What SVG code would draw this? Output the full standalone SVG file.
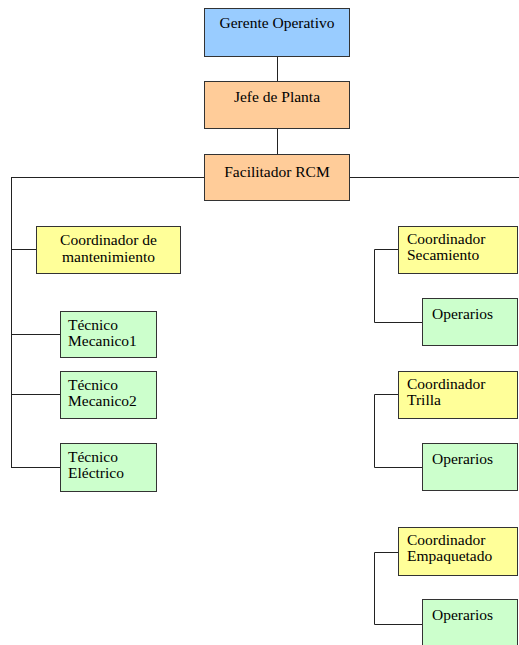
<svg xmlns="http://www.w3.org/2000/svg" width="519" height="645" viewBox="0 0 519 645">
<style>
rect{stroke:#333;stroke-width:1}
.b{fill:#99CCFF}.o{fill:#FFCC99}.y{fill:#FFFF99}.g{fill:#CCFFCC}
text{font-size:15.5px;fill:#000}
.c{text-anchor:middle}
#conn path{stroke:#222;stroke-width:1;fill:none}
</style>
<rect width="519" height="645" fill="#fff" style="stroke:none"/>
<g id="conn">
<path d="M277.5 57V81M277.5 129V154"/>
<path d="M11 177.5H204M350 177.5H519"/>
<path d="M11.5 177V467.5"/>
<path d="M11 249.5H36M11 334.5H60M11 394.5H60M11 467.5H60"/>
<path d="M398 249.5H374.5V322.5H422"/>
<path d="M398 394.5H374.5V467.5H422"/>
<path d="M398 552.5H374.5V624.5H422"/>
</g>
<g font-family="'Liberation Serif', 'Times New Roman', 'DejaVu Serif', serif">
<g id="gerente"><rect class="b" x="204.5" y="8.5" width="145" height="48"/><text class="c" x="277" y="28">Gerente Operativo</text></g>
<g id="jefe"><rect class="o" x="204.5" y="81.5" width="145" height="47"/><text class="c" x="277" y="102">Jefe de Planta</text></g>
<g id="facilitador"><rect class="o" x="204.5" y="154.5" width="145" height="46"/><text class="c" x="277" y="177">Facilitador RCM</text></g>
<g id="coord-mant"><rect class="y" x="36.5" y="226.5" width="144" height="47"/><text class="c" x="108.5" y="245">Coordinador de</text><text class="c" x="108.5" y="262">mantenimiento</text></g>
<g id="tec1"><rect class="g" x="60.5" y="311.5" width="96" height="46"/><text x="68" y="330">Técnico</text><text x="68" y="346">Mecanico1</text></g>
<g id="tec2"><rect class="g" x="60.5" y="371.5" width="96" height="47"/><text x="68" y="390">Técnico</text><text x="68" y="406">Mecanico2</text></g>
<g id="tec3"><rect class="g" x="60.5" y="443.5" width="96" height="48"/><text x="68" y="462">Técnico</text><text x="68" y="478">Eléctrico</text></g>
<g id="coord-sec"><rect class="y" x="398.5" y="226.5" width="119" height="47"/><text x="407" y="244">Coordinador</text><text x="407" y="260">Secamiento</text></g>
<g id="op-sec"><rect class="g" x="422.5" y="298.5" width="95" height="47"/><text x="432" y="319">Operarios</text></g>
<g id="coord-tri"><rect class="y" x="398.5" y="371.5" width="119" height="47"/><text x="407" y="389">Coordinador</text><text x="407" y="405">Trilla</text></g>
<g id="op-tri"><rect class="g" x="422.5" y="443.5" width="95" height="47"/><text x="432" y="464">Operarios</text></g>
<g id="coord-emp"><rect class="y" x="398.5" y="527.5" width="119" height="48"/><text x="407" y="545">Coordinador</text><text x="407" y="561">Empaquetado</text></g>
<g id="op-emp"><rect class="g" x="422.5" y="599.5" width="95" height="52"/><text x="432" y="620">Operarios</text></g>
</g>
</svg>
